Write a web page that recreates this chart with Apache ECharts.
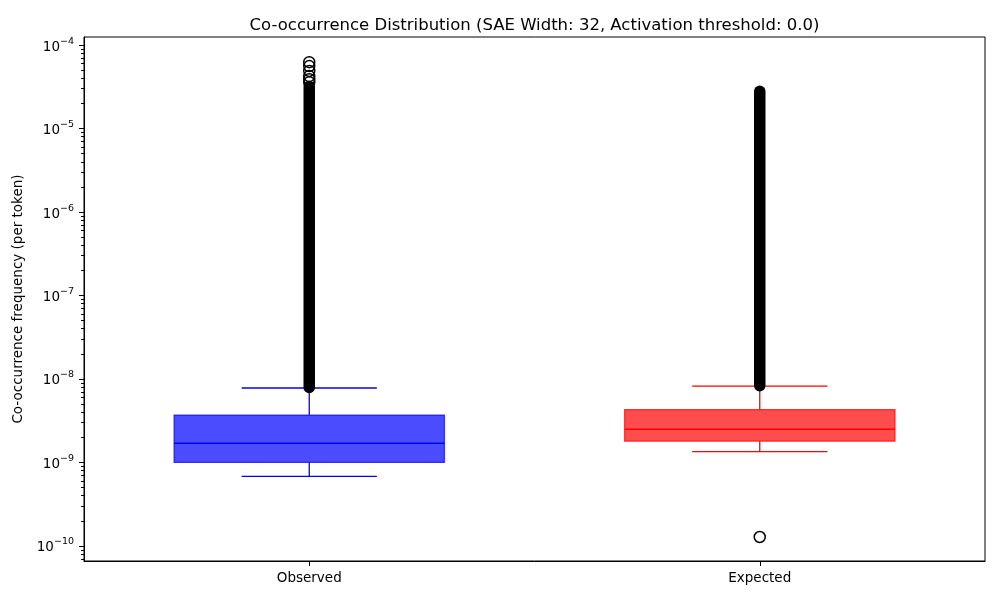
<!DOCTYPE html>
<html><head><meta charset="utf-8">
<script src="https://cdn.jsdelivr.net/npm/echarts@6/dist/echarts.min.js"></script>
<style>html,body{margin:0;padding:0;background:#fff}#c{width:1000px;height:600px}</style>
</head><body><div id="c"></div>
<script>
const categories = ['Observed', 'Expected'];
// [whiskerLow, Q1, median, Q3, whiskerHigh]
const observedBox = [6.8e-10, 1.0e-9, 1.7e-9, 3.7e-9, 7.8e-9];
const expectedBox = [1.35e-9, 1.8e-9, 2.5e-9, 4.3e-9, 8.2e-9];
// continuous runs of overlapping outlier circles [lowest, highest]
const observedDenseOutliers = [7.9e-9, 3.2e-5];
const expectedDenseOutliers = [8.3e-9, 2.8e-5];
// individually visible outliers
const observedSparseOutliers = [3.6e-5, 3.9e-5, 4.25e-5, 4.9e-5, 5.6e-5, 6.25e-5];
const expectedSparseOutliers = [1.28e-10];
const yMajorTicks = [1e-10, 1e-9, 1e-8, 1e-7, 1e-6, 1e-5, 1e-4];

const FONT = 'DejaVu Sans';
const boxStyles = [
  {fill: 'rgba(0,0,255,0.7)', edge: '#0000ff'},
  {fill: 'rgba(255,0,0,0.7)', edge: '#ff0000'}
];
const yMinorTicks = [];
for (let e = -11; e <= -4; e++) for (let m = 2; m <= 9; m++) yMinorTicks.push(m * Math.pow(10, e));

const boxData = [[0].concat(observedBox), [1].concat(expectedBox)];
const denseData = [[0].concat(observedDenseOutliers), [1].concat(expectedDenseOutliers)];
const sparseData = observedSparseOutliers.map(v => [0, v]).concat(expectedSparseOutliers.map(v => [1, v]));

function renderBox(params, api) {
  const i = api.value(0);
  const st = boxStyles[i];
  const band = params.coordSys.width / categories.length;
  const hw = band * 0.3, cw = band * 0.15;
  const pLo = api.coord([i, api.value(1)]);
  const pQ1 = api.coord([i, api.value(2)]);
  const pMed = api.coord([i, api.value(3)]);
  const pQ3 = api.coord([i, api.value(4)]);
  const pHi = api.coord([i, api.value(5)]);
  const x = pMed[0];
  const ls = {stroke: st.edge, lineWidth: 1.3};
  return {
    type: 'group',
    children: [
      {type: 'line', shape: {x1: x, y1: pQ1[1], x2: x, y2: pLo[1]}, style: ls},
      {type: 'line', shape: {x1: x, y1: pQ3[1], x2: x, y2: pHi[1]}, style: ls},
      {type: 'line', shape: {x1: x - cw, y1: pLo[1], x2: x + cw, y2: pLo[1]}, style: ls},
      {type: 'line', shape: {x1: x - cw, y1: pHi[1], x2: x + cw, y2: pHi[1]}, style: ls},
      {type: 'rect', shape: {x: x - hw, y: pQ3[1], width: 2 * hw, height: pQ1[1] - pQ3[1]},
        style: {fill: st.fill, stroke: st.fill, lineWidth: 1.3}},
      {type: 'line', shape: {x1: x - hw, y1: pMed[1], x2: x + hw, y2: pMed[1]}, style: ls}
    ]
  };
}
function renderDense(params, api) {
  const i = api.value(0);
  const a = api.coord([i, api.value(1)]);
  const b = api.coord([i, api.value(2)]);
  return {type: 'line', shape: {x1: a[0], y1: a[1], x2: b[0], y2: b[1]},
    style: {stroke: '#000', lineWidth: 11.5, lineCap: 'round'}};
}

const chart = echarts.init(document.getElementById('c'), null, {renderer: 'canvas'});
chart.setOption({
  animation: false,
  backgroundColor: '#fff',
  textStyle: {fontFamily: FONT},
  title: {
    text: 'Co-occurrence Distribution (SAE Width: 32, Activation threshold: 0.0)',
    left: 529.5, top: 12, textAlign: 'center',
    textStyle: {fontFamily: FONT, fontSize: 16.5, fontWeight: 'normal', color: '#000'}
  },
  grid: {left: 84, right: 15, top: 37, bottom: 39, show: true, borderColor: '#000', borderWidth: 1, backgroundColor: 'transparent'},
  xAxis: {
    type: 'category', data: categories, boundaryGap: true,
    axisLine: {show: true, lineStyle: {color: '#000', width: 1}},
    axisTick: {show: true, alignWithLabel: true, length: 5, lineStyle: {color: '#000'}},
    axisLabel: {color: '#000', fontFamily: FONT, fontSize: 13.5, margin: 10},
    splitLine: {show: false}
  },
  yAxis: [{
    type: 'log', logBase: 10, min: 6.6e-11, max: 1.25e-4, position: 'left',
    name: 'Co-occurrence frequency (per token)', nameLocation: 'middle', nameGap: 54,
    nameTextStyle: {fontFamily: FONT, fontSize: 13.5, color: '#000'},
    axisLine: {show: true, lineStyle: {color: '#000', width: 1}},
    axisTick: {show: true, length: 5, lineStyle: {color: '#000'}, customValues: yMajorTicks},
    axisLabel: {
      customValues: yMajorTicks, margin: 10, color: '#000',
      formatter: v => '{b|10}{s|\u2212' + Math.round(-Math.log10(v)) + '}',
      rich: {
        b: {fontFamily: FONT, fontSize: 13.5, color: '#000', verticalAlign: 'bottom', lineHeight: 18, padding: [6, 0, 0, 0]},
        s: {fontFamily: FONT, fontSize: 9.5, color: '#000', verticalAlign: 'top', lineHeight: 18}
      }
    },
    splitLine: {show: false}, minorTick: {show: false}
  }, {
    type: 'log', logBase: 10, min: 6.6e-11, max: 1.25e-4, position: 'left',
    axisLine: {show: false},
    axisTick: {show: true, length: 3, lineStyle: {color: '#000'}, customValues: yMinorTicks},
    axisLabel: {show: false},
    splitLine: {show: false}
  }],
  series: [
    {type: 'custom', renderItem: renderBox, data: boxData, encode: {x: 0, y: [1, 2, 3, 4, 5]}, z: 2},
    {type: 'custom', renderItem: renderDense, data: denseData, encode: {x: 0, y: [1, 2]}, z: 3},
    {type: 'scatter', data: sparseData, symbol: 'circle', symbolSize: 11,
      itemStyle: {color: 'rgba(0,0,0,0)', borderColor: '#000', borderWidth: 1.5, opacity: 1}, z: 4}
  ]
});
</script></body></html>
